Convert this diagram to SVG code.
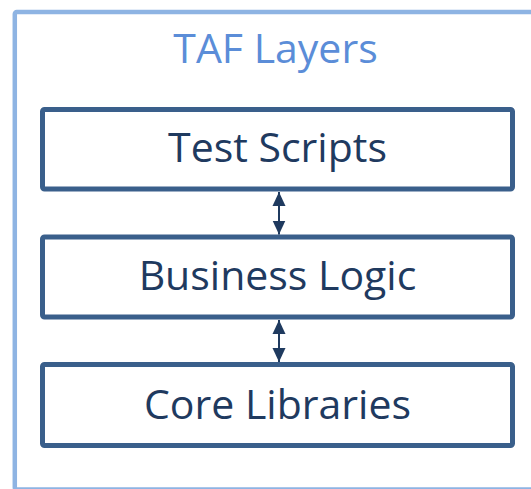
<svg xmlns="http://www.w3.org/2000/svg" width="531" height="489" viewBox="0 0 531 489">
  <style>
    .frame { fill: none; stroke: #8EB4E3; stroke-width: 4.5; }
    .box { fill: #FFFFFF; stroke: #3A5F8B; stroke-width: 5; }
    .label { font-family: "Open Sans", "Liberation Sans", sans-serif; font-size: 41px; fill: #1F3A5F; text-anchor: middle; }
    .title { font-family: "Open Sans", "Liberation Sans", sans-serif; font-size: 41px; fill: #5B8DD8; text-anchor: middle; }
    .conn { stroke: #1F3A5F; stroke-width: 2; fill: none; }
  </style>
  <defs>
    <marker id="arrowEnd" markerUnits="userSpaceOnUse" markerWidth="15" markerHeight="15" refX="14" refY="7.5" orient="auto">
      <path d="M0,1 L14,7.5 L0,14 Z" fill="#1F3A5F"/>
    </marker>
    <marker id="arrowStart" markerUnits="userSpaceOnUse" markerWidth="15" markerHeight="15" refX="1" refY="7.5" orient="auto">
      <path d="M15,1 L1,7.5 L15,14 Z" fill="#1F3A5F"/>
    </marker>
  </defs>
  <rect width="531" height="489" fill="#FFFFFF"/>
  <g id="frame">
    <rect class="frame" x="14.8" y="12" width="540" height="477.5" rx="2"/>
    <text class="title" x="275.5" y="62.5">TAF Layers</text>
  </g>
  <g id="test-scripts">
    <rect class="box" x="42.5" y="109.5" width="470" height="79.5" rx="2"/>
    <text class="label" x="277.5" y="161.5">Test Scripts</text>
  </g>
  <g id="business-logic">
    <rect class="box" x="42.5" y="237" width="470" height="80" rx="2"/>
    <text class="label" x="277.5" y="289.5">Business Logic</text>
  </g>
  <g id="core-libraries">
    <rect class="box" x="42.5" y="364.5" width="470" height="81" rx="2"/>
    <text class="label" x="277.5" y="418.5">Core Libraries</text>
  </g>
  <g id="connectors">
    <line class="conn" x1="279" y1="192" x2="279" y2="234.5" marker-start="url(#arrowStart)" marker-end="url(#arrowEnd)"/>
    <line class="conn" x1="279" y1="320" x2="279" y2="362" marker-start="url(#arrowStart)" marker-end="url(#arrowEnd)"/>
  </g>
</svg>
